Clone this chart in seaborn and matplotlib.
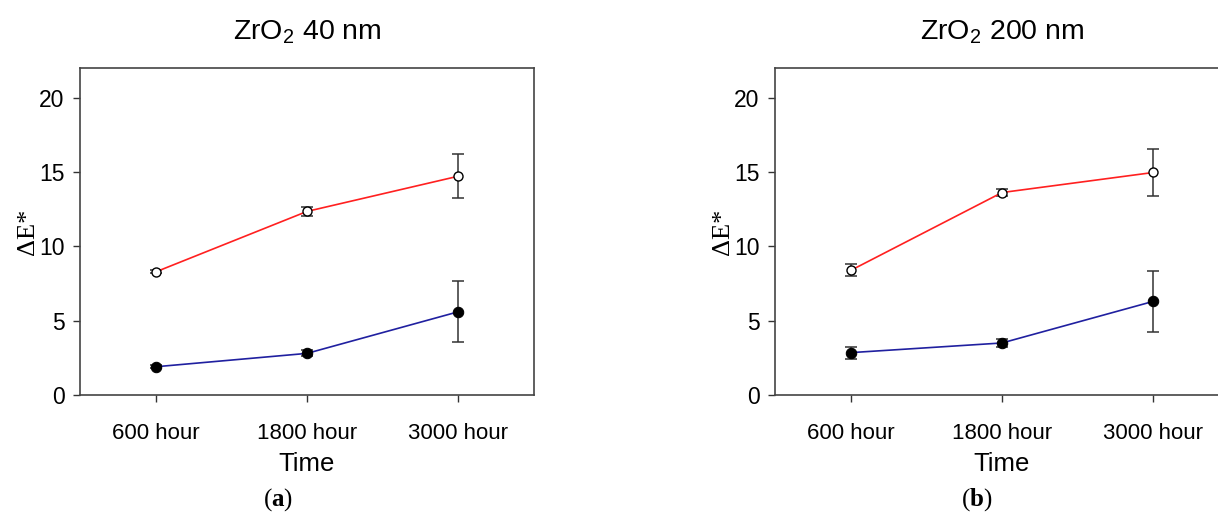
import numpy as np
import pandas as pd
import matplotlib
matplotlib.use('Agg')
import matplotlib.pyplot as plt
import seaborn as sns

# data
times = ['600 hour', '1800 hour', '3000 hour']
a_red = [8.28, 12.35, 14.72]
a_red_err = [0.1, 0.3, 1.46]
a_blue = [1.9, 2.8, 5.6]
a_blue_err = [0.1, 0.2, 2.06]
b_red = [8.38, 13.62, 14.97]
b_red_err = [0.4, 0.25, 1.6]
b_blue = [2.85, 3.5, 6.3]
b_blue_err = [0.4, 0.25, 2.05]
titles = ['40 nm', '200 nm']
panel_tags = ['a', 'b']

sns.set_style('white')
plt.rcParams['font.family'] = ['Liberation Sans', 'DejaVu Sans']
plt.rcParams['mathtext.fontset'] = 'custom'
plt.rcParams['mathtext.rm'] = 'Liberation Sans'
plt.rcParams['mathtext.bf'] = 'Liberation Serif:bold'
plt.rcParams['text.color'] = 'black'
plt.rcParams['axes.labelcolor'] = 'black'
plt.rcParams['xtick.color'] = 'black'
plt.rcParams['ytick.color'] = 'black'

fig = plt.figure(figsize=(12.18, 5.15), dpi=100)
ax_a = fig.add_axes([0.0657, 0.233, 0.3727, 0.635])
ax_b = fig.add_axes([0.6363, 0.233, 0.3727, 0.635])

panels = [
    (ax_a, a_red, a_red_err, a_blue, a_blue_err),
    (ax_b, b_red, b_red_err, b_blue, b_blue_err),
]
tag_x = [0.228, 0.802]   # centres of (a) and (b) in figure coords

for i, (ax, red, red_err, blue, blue_err) in enumerate(panels):
    df = pd.DataFrame({
        'x': list(range(len(times))) * 2,
        'y': red + blue,
        'err': red_err + blue_err,
        'grp': ['red'] * len(times) + ['blue'] * len(times),
    })
    # error bars first so markers sit on top
    ax.errorbar(df['x'], df['y'], yerr=df['err'], fmt='none', ecolor='#333333',
                elinewidth=1.1, capsize=4, capthick=1.1, zorder=2)
    sns.lineplot(data=df[df['grp'] == 'red'], x='x', y='y', ax=ax, color='#ff2020',
                 linewidth=1.2, marker='o', markersize=6.5, markerfacecolor='white',
                 markeredgecolor='black', markeredgewidth=1.0, zorder=3)
    sns.lineplot(data=df[df['grp'] == 'blue'], x='x', y='y', ax=ax, color='#2020a0',
                 linewidth=1.2, marker='o', markersize=7.5, markerfacecolor='black',
                 markeredgecolor='black', zorder=3)

    ax.set_xlim(-0.5, 2.5)
    ax.set_ylim(0, 22)
    ax.set_xticks(range(len(times)))
    ax.set_xticklabels(times, fontsize=16)
    ax.set_yticks([0, 5, 10, 15, 20])
    ax.tick_params(axis='y', labelsize=16.5, direction='out', length=5, width=1,
                   color='#333333', left=True, pad=6)
    ax.tick_params(axis='x', direction='out', length=5, width=1, color='#333333',
                   bottom=True, pad=15)
    for s in ax.spines.values():
        s.set_color('#444444')
        s.set_linewidth(1.2)

    ax.set_xlabel('Time', fontsize=18.5, labelpad=6)
    ax.set_ylabel('ΔE*', fontsize=19, family=['Liberation Serif'], labelpad=0)
    ax.set_title('ZrO$_2$ ' + titles[i], fontsize=20.5, pad=21, color='black')
    fig.text(tag_x[i], 0.03, '($\\mathbf{' + panel_tags[i] + '}$)', ha='center',
             va='center', fontsize=18, family=['Liberation Serif'])

fig.savefig('out.png', dpi=100)
